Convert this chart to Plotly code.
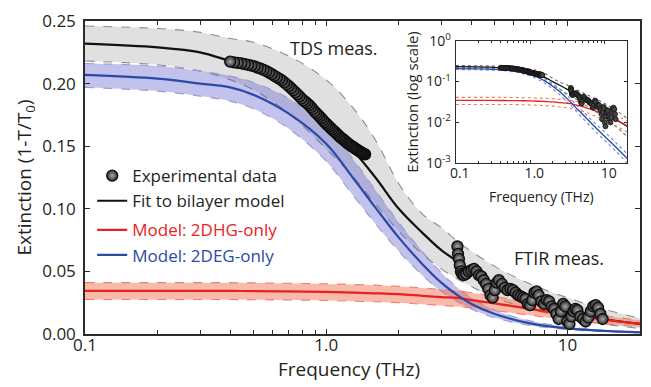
import plotly.graph_objects as go

# ---------------- data ----------------
freq_model = [0.1, 0.2, 0.3, 0.4, 0.5, 0.7, 1.0, 1.3, 1.6, 2.0, 2.5, 3.0, 3.5, 4.0, 5.0, 7.0, 10, 14, 20]

fit_bilayer = [0.232, 0.229, 0.225, 0.218, 0.213, 0.196, 0.167, 0.146, 0.125, 0.100, 0.081, 0.067, 0.058, 0.050, 0.039, 0.027, 0.0175, 0.012, 0.008]
fit_upper   = [0.246, 0.244, 0.241, 0.236, 0.233, 0.222, 0.203, 0.180, 0.155, 0.120, 0.096, 0.085, 0.074, 0.066, 0.054, 0.040, 0.029, 0.020, 0.0125]
fit_lower   = [0.218, 0.215, 0.210, 0.203, 0.195, 0.176, 0.148, 0.125, 0.104, 0.082, 0.064, 0.052, 0.044, 0.038, 0.029, 0.020, 0.013, 0.008, 0.0045]

deg_model = [0.207, 0.204, 0.200, 0.197, 0.191, 0.176, 0.152, 0.124, 0.101, 0.077, 0.056, 0.041, 0.031, 0.024, 0.016, 0.0085, 0.0045, 0.0025, 0.0013]
deg_upper = [0.216, 0.214, 0.210, 0.206, 0.201, 0.188, 0.166, 0.139, 0.115, 0.089, 0.066, 0.049, 0.037, 0.029, 0.019, 0.0105, 0.0058, 0.0032, 0.0017]
deg_lower = [0.197, 0.194, 0.190, 0.186, 0.180, 0.164, 0.138, 0.110, 0.088, 0.066, 0.047, 0.034, 0.026, 0.020, 0.013, 0.0068, 0.0036, 0.0020, 0.0010]

dhg_model = [0.0345, 0.0345, 0.0345, 0.0344, 0.0343, 0.0340, 0.0336, 0.0330, 0.0325, 0.0318, 0.0305, 0.0295, 0.0288, 0.0270, 0.0245, 0.0200, 0.0155, 0.0115, 0.0082]
dhg_upper = [0.0410, 0.0410, 0.0410, 0.0410, 0.0408, 0.0405, 0.0400, 0.0395, 0.0390, 0.0380, 0.0368, 0.0355, 0.0345, 0.0330, 0.0300, 0.0250, 0.0200, 0.0148, 0.0110]
dhg_lower = [0.0275, 0.0275, 0.0275, 0.0275, 0.0274, 0.0272, 0.0268, 0.0262, 0.0257, 0.0250, 0.0238, 0.0228, 0.0220, 0.0208, 0.0187, 0.0150, 0.0112, 0.0083, 0.0058]

tds_freq = [0.400, 0.415, 0.430, 0.445, 0.460, 0.475, 0.490, 0.505, 0.520, 0.535, 0.550, 0.565,
            0.580, 0.595, 0.610, 0.625, 0.640, 0.655, 0.670, 0.685, 0.700, 0.715, 0.730, 0.745,
            0.760, 0.775, 0.790, 0.805, 0.820, 0.835, 0.850, 0.865, 0.880, 0.895, 0.910, 0.925,
            0.940, 0.955, 0.970, 0.985, 1.000, 1.015, 1.030, 1.045, 1.060, 1.075, 1.090, 1.105,
            1.120, 1.135, 1.150, 1.165, 1.180, 1.195, 1.210, 1.225, 1.240, 1.255, 1.270, 1.285,
            1.300, 1.315, 1.330, 1.345, 1.360, 1.375, 1.390, 1.405, 1.420, 1.435, 1.450]
tds_ext = [0.2175, 0.2170, 0.2166, 0.2162, 0.2156, 0.2150, 0.2144, 0.2137, 0.2128, 0.2119, 0.2110, 0.2100,
           0.2088, 0.2075, 0.2062, 0.2050, 0.2038, 0.2025, 0.2010, 0.1995, 0.1980, 0.1963, 0.1947, 0.1930,
           0.1914, 0.1898, 0.1881, 0.1866, 0.1854, 0.1841, 0.1828, 0.1812, 0.1795, 0.1778, 0.1764, 0.1750,
           0.1737, 0.1723, 0.1707, 0.1693, 0.1680, 0.1668, 0.1656, 0.1644, 0.1633, 0.1622, 0.1612, 0.1601,
           0.1589, 0.1578, 0.1568, 0.1560, 0.1552, 0.1543, 0.1534, 0.1525, 0.1517, 0.1510, 0.1502, 0.1496,
           0.1490, 0.1483, 0.1476, 0.1470, 0.1464, 0.1458, 0.1453, 0.1448, 0.1443, 0.1439, 0.1435]

ftir_freq = [3.50, 3.52, 3.55, 3.58, 3.62, 3.66, 3.72, 3.80, 3.90, 4.00, 4.10, 4.20, 4.30, 4.40, 4.50,
             4.60, 4.70, 4.80, 4.90, 5.00, 5.10, 5.20, 5.35, 5.50, 5.65, 5.80, 5.95, 6.10, 6.25, 6.40,
             6.55, 6.70, 6.85, 7.00, 7.15, 7.30, 7.45, 7.60, 7.80, 8.00, 8.20, 8.40, 8.60, 8.80, 9.00,
             9.20, 9.40, 9.60, 9.80, 10.0, 10.2, 10.4, 10.6, 10.8, 11.0, 11.3, 11.6, 11.9, 12.2, 12.5,
             12.8, 13.1, 13.4, 13.7, 14.0]
ftir_ext = [0.070, 0.064, 0.060, 0.055, 0.050, 0.048, 0.047, 0.048, 0.050, 0.051, 0.052, 0.050, 0.047, 0.046, 0.043,
            0.040, 0.036, 0.031, 0.029, 0.035, 0.041, 0.043, 0.040, 0.037, 0.035, 0.036, 0.035, 0.033, 0.031, 0.030,
            0.029, 0.028, 0.024, 0.023, 0.027, 0.033, 0.034, 0.031, 0.026, 0.024, 0.027, 0.026, 0.022, 0.020, 0.016,
            0.012, 0.018, 0.024, 0.022, 0.010, 0.008, 0.014, 0.018, 0.020, 0.019, 0.014, 0.012, 0.010, 0.013, 0.018,
            0.022, 0.023, 0.021, 0.016, 0.012]

x_tickvals = [0.1, 1, 10]
x_ticktext = ["0.1", "1.0", "10"]
x_minorvals = [0.2, 0.3, 0.4, 0.5, 0.6, 0.7, 0.8, 0.9, 2, 3, 4, 5, 6, 7, 8, 9, 20]
y_tickvals = [0.0, 0.05, 0.10, 0.15, 0.20, 0.25]
y_ticktext = ["0.00", "0.05", "0.10", "0.15", "0.20", "0.25"]
inset_y_tickvals = [1, 0.1, 0.01, 0.001]
inset_y_ticktext = ["10<sup>0</sup>", "10<sup>-1</sup>", "10<sup>-2</sup>", "10<sup>-3</sup>"]

FONT = "Open Sans"
TXT = "#231f20"
BLACK = "#111111"
BLUE = "#2b4aa6"
RED = "#e8221d"

fig = go.Figure()

def band(lower, upper, edge, fill, xa="x", ya="y", dash="dash", width=1.1, fillit=True):
    fig.add_trace(go.Scatter(x=freq_model, y=lower, mode="lines", xaxis=xa, yaxis=ya,
                             line=dict(color=edge, dash=dash, width=width, shape="spline"),
                             showlegend=False, hoverinfo="skip"))
    fig.add_trace(go.Scatter(x=freq_model, y=upper, mode="lines", xaxis=xa, yaxis=ya,
                             line=dict(color=edge, dash=dash, width=width, shape="spline"),
                             fill="tonexty" if fillit else None,
                             fillcolor=fill, showlegend=False, hoverinfo="skip"))

# ---------------- main plot ----------------
band(fit_lower, fit_upper, "#8c8c8c", "rgba(205,205,205,0.62)")
band(deg_lower, deg_upper, "#9a9dd0", "rgba(95,95,205,0.38)")
band(dhg_lower, dhg_upper, "#ef8068", "rgba(240,110,80,0.48)")

fig.add_trace(go.Scatter(x=freq_model, y=fit_bilayer, mode="lines", name="Fit to bilayer model",
                         line=dict(color=BLACK, width=2.2, shape="spline"),
                         legendgroup="a", legendrank=2))
fig.add_trace(go.Scatter(x=freq_model, y=dhg_model, mode="lines",
                         name='<span style="color:%s">Model: 2DHG-only</span>' % RED,
                         line=dict(color=RED, width=2.2, shape="spline"),
                         legendgroup="b", legendrank=3))
fig.add_trace(go.Scatter(x=freq_model, y=deg_model, mode="lines",
                         name='<span style="color:%s">Model: 2DEG-only</span>' % BLUE,
                         line=dict(color=BLUE, width=2.2, shape="spline"),
                         legendgroup="b", legendrank=4))

marker_main = dict(size=11, color="#2e2e2e", line=dict(color="#0d0d0d", width=1.3),
                   gradient=dict(type="radial", color="#a8a8a8"))
fig.add_trace(go.Scatter(x=ftir_freq, y=ftir_ext, mode="markers", marker=marker_main,
                         showlegend=False))
fig.add_trace(go.Scatter(x=tds_freq[::-1], y=tds_ext[::-1], mode="markers", marker=marker_main,
                         name="Experimental data", legendgroup="a", legendrank=1))

# ---------------- inset ----------------
band(fit_lower, fit_upper, "#6d6d6d", None, "x2", "y2", dash="dot", width=1.1, fillit=False)
band(deg_lower, deg_upper, "#6f83dd", None, "x2", "y2", dash="dot", width=1.1, fillit=False)
band(dhg_lower, dhg_upper, "#f07a60", None, "x2", "y2", dash="dot", width=1.1, fillit=False)
for yv, col in ((fit_bilayer, BLACK), (dhg_model, RED), (deg_model, BLUE)):
    fig.add_trace(go.Scatter(x=freq_model, y=yv, mode="lines", xaxis="x2", yaxis="y2",
                             line=dict(color=col, width=1.3, shape="spline"),
                             showlegend=False, hoverinfo="skip"))
marker_inset = dict(size=5, color="#444444", line=dict(color="#111111", width=0.8))
fig.add_trace(go.Scatter(x=tds_freq, y=tds_ext, mode="markers", xaxis="x2", yaxis="y2",
                         marker=marker_inset, showlegend=False))
fig.add_trace(go.Scatter(x=ftir_freq, y=ftir_ext, mode="markers", xaxis="x2", yaxis="y2",
                         marker=marker_inset, showlegend=False))

axis_common = dict(showline=True, linecolor="#2b2b2b", mirror="ticks", ticks="inside",
                   tickcolor="#2b2b2b", showgrid=False, zeroline=False)

fig.update_layout(
    width=651, height=387,
    margin=dict(l=85, r=9, t=15, b=53),
    paper_bgcolor="white", plot_bgcolor="white",
    font=dict(family=FONT, color=TXT),
    xaxis=dict(type="log", range=[-1, 1.30103], tickvals=x_tickvals, ticktext=x_ticktext,
               minor=dict(tickvals=x_minorvals, ticks="inside", ticklen=4, tickcolor="#2b2b2b"),
               ticklen=5, tickwidth=1.2, linewidth=1.5, tickfont=dict(size=17),
               ticklabelstandoff=-5, **axis_common),
    yaxis=dict(range=[0, 0.25], tickvals=y_tickvals, ticktext=y_ticktext,
               ticklen=5, tickwidth=1.2, linewidth=1.5, tickfont=dict(size=17),
               ticklabelstandoff=4,
               title=dict(text="Extinction (1-T/T<sub>0</sub>)", font=dict(size=19), standoff=6),
               **axis_common),
    xaxis2=dict(type="log", domain=[0.668, 0.977], anchor="y2", range=[-1, 1.30103],
                tickvals=x_tickvals, ticktext=x_ticktext,
                minor=dict(tickvals=x_minorvals, ticks="inside", ticklen=2, tickcolor="#2b2b2b"),
                ticklen=3, tickwidth=1, linewidth=1.2, tickfont=dict(size=14),
                ticklabelstandoff=-3, ticklabelshift=4, **axis_common),
    yaxis2=dict(type="log", domain=[0.5455, 0.937], anchor="x2", range=[-3, 0],
                tickvals=inset_y_tickvals, ticktext=inset_y_ticktext, ticklen=3, tickwidth=1,
                linewidth=1.2, tickfont=dict(size=14), ticklabelstandoff=1,
                title=dict(text="Extinction (log scale)", font=dict(size=15), standoff=3),
                **axis_common),
    legend=dict(x=0.013, y=0.562, xanchor="left", yanchor="top", bgcolor="rgba(0,0,0,0)",
                font=dict(size=17, color=TXT), traceorder="grouped", tracegroupgap=4,
                itemwidth=30),
    annotations=[
        dict(text="Frequency (THz)", xref="paper", yref="paper", x=0.476, y=-0.112,
             xanchor="center", yanchor="middle", showarrow=False, font=dict(size=19)),
        dict(text="Frequency (THz)", xref="paper", yref="paper", x=(543 - 85) / 557,
             y=(334 - 194) / 319, xanchor="center", yanchor="middle", showarrow=False,
             font=dict(size=14)),
        dict(text="TDS meas.", xref="paper", yref="paper", x=(335 - 85) / 557, y=(334 - 43) / 319,
             xanchor="center", yanchor="middle", showarrow=False, font=dict(size=18)),
        dict(text="FTIR meas.", xref="paper", yref="paper", x=(561 - 85) / 557, y=(334 - 257) / 319,
             xanchor="center", yanchor="middle", showarrow=False, font=dict(size=18)),
    ],
)

fig.write_html("out.html")
